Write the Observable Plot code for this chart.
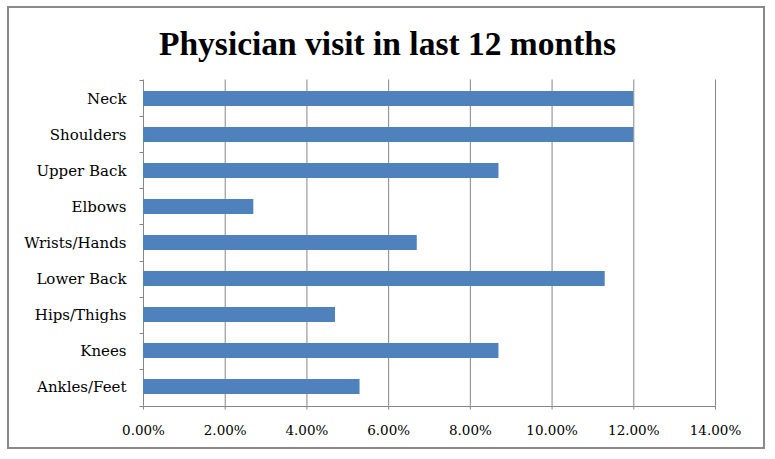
<!DOCTYPE html>
<html><head><meta charset="utf-8">
<script src="https://cdn.jsdelivr.net/npm/d3@7"></script>
<script src="https://cdn.jsdelivr.net/npm/@observablehq/plot@0.6"></script>
<style>
body{margin:0;background:#fff;}
#wrap{position:relative;width:775px;height:459px;overflow:hidden;background:#fff;}
#frame{position:absolute;left:7px;top:6px;width:754px;height:439px;border:2px solid #8a8a8a;}
#title{position:absolute;left:0;width:775px;top:27px;text-align:center;font:bold 33.5px/33.5px "Liberation Serif",serif;color:#000;}
#chart{position:absolute;left:0;top:60px;}
</style></head><body>
<div id="wrap"><div id="frame"></div><div id="title">Physician visit in last 12 months</div><div id="chart"></div></div>
<script>
const categories = ["Neck","Shoulders","Upper Back","Elbows","Wrists/Hands","Lower Back","Hips/Thighs","Knees","Ankles/Feet"];
const values = [0.12,0.12,0.087,0.027,0.067,0.113,0.047,0.087,0.053];
const xTicks = [0,0.02,0.04,0.06,0.08,0.10,0.12,0.14];
const data = categories.map((c,i)=>({category:c, value:values[i]}));
const axisColor = "#868686";
const axisLines = (index, scales, vals, dimensions) => {
  const {width, height, marginRight, marginTop, marginBottom} = dimensions;
  const g = d3.create("svg:g").attr("stroke", axisColor).attr("fill","none").attr("transform","translate(0.5,0.5)");
  const x0 = Math.round(scales.x(0));
  const yb = Math.round(height - marginBottom);
  g.append("line").attr("x1", x0).attr("x2", Math.round(scales.x(0.14))).attr("y1", yb).attr("y2", yb);
  const step = (height - marginBottom - marginTop)/categories.length;
  for (let i=0;i<=categories.length;i++){
    const y = Math.round(marginTop + i*step);
    g.append("line").attr("x1", x0-4).attr("x2", x0).attr("y1", y).attr("y2", y);
  }
  return g.node();
};
const plot = Plot.plot({
  width:775, height:399, marginTop:19.5, marginBottom:53.5, marginLeft:143, marginRight:60,
  style:{fontFamily:"'DejaVu Serif', serif", fontSize:"14px", color:"#000", background:"transparent"},
  x:{domain:[0,0.14], label:null},
  y:{domain:categories, paddingInner:0.586, paddingOuter:0.293, label:null},
  marks:[
    Plot.gridX(xTicks, {stroke:axisColor, strokeOpacity:1}),
    Plot.barX(data, {x:"value", y:"category", fill:"#4F81BD"}),
    Plot.axisX(xTicks, {tickSize:4, tickPadding:15, stroke:axisColor, fontSize:13.5, tickFormat:d3.format(".2%"), label:null}),
    Plot.axisY({tickSize:0, tickPadding:17, fontSize:15, label:null}),
    axisLines
  ]
});
document.getElementById("chart").appendChild(plot);
</script>
</body></html>
